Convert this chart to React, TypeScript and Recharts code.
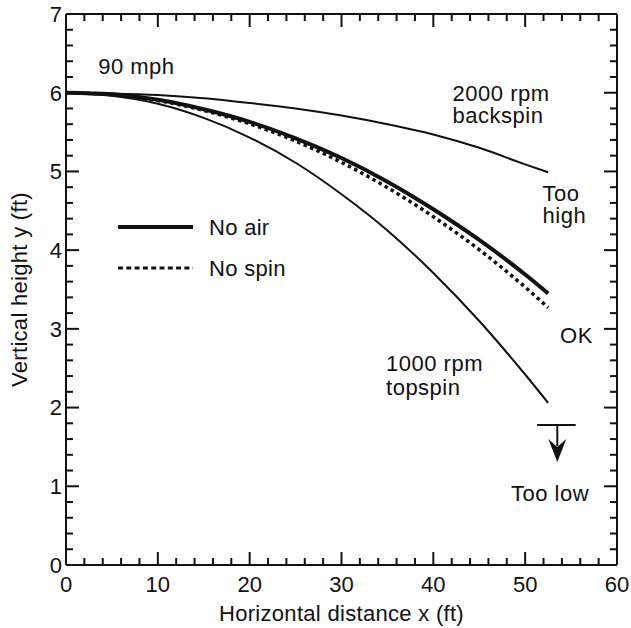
import React from 'react';
import { LineChart, Line, XAxis, YAxis, Legend, ReferenceLine, ReferenceDot } from 'recharts';

// horizontal distance x (ft) and vertical height y (ft) for each pitch
const distance = [0, 5, 10, 15, 20, 25, 30, 35, 40, 45, 50, 52.5];
const backspin2000 = [6, 5.99, 5.97, 5.93, 5.87, 5.8, 5.71, 5.6, 5.47, 5.3, 5.09, 4.99];
const noAir = [6, 5.98, 5.91, 5.79, 5.63, 5.42, 5.17, 4.87, 4.52, 4.13, 3.69, 3.45];
const noSpin = [6, 5.975, 5.9, 5.775, 5.605, 5.385, 5.115, 4.795, 4.425, 4.005, 3.53, 3.27];
const topspin1000 = [6, 5.96, 5.86, 5.68, 5.43, 5.11, 4.71, 4.25, 3.71, 3.1, 2.42, 2.06];

const xMajorTicks = [0, 10, 20, 30, 40, 50, 60];
const yMajorTicks = [0, 1, 2, 3, 4, 5, 6, 7];
const xMinorStep = 2;
const yMinorStep = 0.2;

// text notes placed in data coordinates (left edge, baseline)
const notes = [
  { text: '90 mph', x: 3.5, y: 6.24 },
  { text: '2000 rpm', x: 42.1, y: 5.9 },
  { text: 'backspin', x: 42.1, y: 5.61 },
  { text: 'Too', x: 51.9, y: 4.63 },
  { text: 'high', x: 51.9, y: 4.34 },
  { text: 'OK', x: 53.8, y: 2.82 },
  { text: '1000 rpm', x: 34.85, y: 2.465 },
  { text: 'topspin', x: 34.85, y: 2.16 },
  { text: 'Too low', x: 48.46, y: 0.81 },
];

// "too low" marker: bar and arrow
const lowBar = { x1: 51.3, x2: 55.5, y: 1.78 };
const lowArrow = { x: 53.5, tip: 1.31 };

const FONT = "'Liberation Sans', Arial, Helvetica, sans-serif";
const INK = '#111';

const rows = distance.map((x, i) => ({
  x,
  backspin: backspin2000[i],
  noAir: noAir[i],
  noSpin: noSpin[i],
  topspin: topspin1000[i],
}));

const steps = (max: number, step: number) => {
  const out: number[] = [];
  for (let i = 0; i * step <= max + 1e-9; i++) out.push(Math.round(i * step * 100) / 100);
  return out;
};
const xTicks = steps(60, xMinorStep);
const yTicks = steps(7, yMinorStep);

const isMajor = (v: number, majors: number[]) => majors.some(m => Math.abs(m - v) < 1e-6);

function InTick(props: any) {
  const { x, y, payload, side } = props;
  const v = payload.value;
  const horizontal = side === 'bottom' || side === 'top';
  const major = isMajor(v, horizontal ? xMajorTicks : yMajorTicks);
  const len = major ? 13 : 7;
  let x2 = x;
  let y2 = y;
  if (side === 'bottom') y2 = y - len;
  if (side === 'top') y2 = y + len;
  if (side === 'left') x2 = x + len;
  if (side === 'right') x2 = x - len;
  return (
    <g>
      <line x1={x} y1={y} x2={x2} y2={y2} stroke={INK} strokeWidth={2} />
      {major && side === 'bottom' && (
        <text x={x} y={y + 11} dy="0.71em" textAnchor="middle" fontFamily={FONT} fontSize={22} fill={INK}>
          {v}
        </text>
      )}
      {major && side === 'left' && (
        <text x={x - 4} y={y} dy="0.36em" textAnchor="end" fontFamily={FONT} fontSize={22} fill={INK}>
          {v}
        </text>
      )}
    </g>
  );
}

function XTitle(props: any) {
  const vb = props.viewBox || { x: 66, y: 565, width: 551, height: 63 };
  return (
    <text x={vb.x + vb.width / 2} y={vb.y + vb.height - 7} textAnchor="middle" fontFamily={FONT} fontSize={22} fill={INK} letterSpacing={0.3}>
      Horizontal distance x (ft)
    </text>
  );
}

function YTitle(props: any) {
  const vb = props.viewBox || { x: 0, y: 14, width: 66, height: 551 };
  const cx = vb.x + 27;
  const cy = vb.y + vb.height / 2;
  return (
    <text x={cx} y={cy} transform={`rotate(-90, ${cx}, ${cy})`} textAnchor="middle" fontFamily={FONT} fontSize={22} fill={INK} letterSpacing={0.3}>
      Vertical height y (ft)
    </text>
  );
}

const legendItems = [
  { name: 'No air', width: 4, dash: undefined as string | undefined },
  { name: 'No spin', width: 3, dash: '5 3.3' },
];

function LegendBox() {
  return (
    <svg width={200} height={72} style={{ display: 'block' }}>
      {legendItems.map((item, i) => {
        const ly = 14 + i * 41;
        return (
          <g key={item.name}>
            <line x1={0} y1={ly} x2={75} y2={ly} stroke={INK} strokeWidth={item.width} strokeDasharray={item.dash} />
            <text x={91} y={ly + 6} dy="0.1em" fontFamily={FONT} fontSize={22} fill={INK} letterSpacing={0.3}>
              {item.name}
            </text>
          </g>
        );
      })}
    </svg>
  );
}

function NoteText(props: any) {
  const { cx, cy, text } = props;
  return (
    <text x={cx} y={cy} fontFamily={FONT} fontSize={22} fill={INK} letterSpacing={0.5}>
      {text}
    </text>
  );
}

function ArrowHead(props: any) {
  const { cx, cy } = props;
  return <path d={`M${cx},${cy} L${cx - 9},${cy - 23} L${cx},${cy - 15} L${cx + 9},${cy - 23} Z`} fill={INK} />;
}

export default function App() {
  return (
    <div style={{ position: 'absolute', left: 0, top: 0, background: '#fff', width: 631, height: 628 }}>
      <LineChart width={631} height={628} data={rows} margin={{ top: 13, right: 13, left: 0, bottom: 0 }}>
        <XAxis
          dataKey="x"
          type="number"
          domain={[0, 60]}
          ticks={xTicks}
          interval={0}
          tickSize={0}
          tickMargin={0}
          tickLine={false}
          height={63}
          axisLine={{ stroke: INK, strokeWidth: 2 }}
          tick={<InTick side="bottom" />}
          label={<XTitle />}
        />
        <XAxis
          xAxisId="top"
          orientation="top"
          dataKey="x"
          type="number"
          domain={[0, 60]}
          ticks={xTicks}
          interval={0}
          tickSize={0}
          tickMargin={0}
          tickLine={false}
          height={1}
          axisLine={{ stroke: INK, strokeWidth: 2 }}
          tick={<InTick side="top" />}
        />
        <YAxis
          type="number"
          domain={[0, 7]}
          ticks={yTicks}
          interval={0}
          tickSize={0}
          tickMargin={0}
          tickLine={false}
          width={66}
          axisLine={{ stroke: INK, strokeWidth: 2 }}
          tick={<InTick side="left" />}
          label={<YTitle />}
        />
        <YAxis
          yAxisId="right"
          orientation="right"
          type="number"
          domain={[0, 7]}
          ticks={yTicks}
          interval={0}
          tickSize={0}
          tickMargin={0}
          tickLine={false}
          width={1}
          axisLine={{ stroke: INK, strokeWidth: 2 }}
          tick={<InTick side="right" />}
        />
        <Legend
          layout="horizontal"
          verticalAlign="middle"
          align="center"
          content={<LegendBox />}
          wrapperStyle={{ left: 118, top: 213, width: 200 }}
        />
        {/* hidden copy so the top and right frame axes get drawn */}
        <Line xAxisId="top" yAxisId="right" dataKey="noAir" stroke="none" dot={false} legendType="none" isAnimationActive={false} />
        <Line dataKey="backspin" name="2000 rpm backspin" type="monotone" stroke={INK} strokeWidth={2} dot={false} legendType="none" isAnimationActive={false} />
        <Line dataKey="topspin" name="1000 rpm topspin" type="monotone" stroke={INK} strokeWidth={2} dot={false} legendType="none" isAnimationActive={false} />
        <Line dataKey="noSpin" name="No spin" type="monotone" stroke={INK} strokeWidth={3.5} strokeDasharray="3.5 3.5" dot={false} isAnimationActive={false} />
        <Line dataKey="noAir" name="No air" type="monotone" stroke={INK} strokeWidth={4} dot={false} isAnimationActive={false} />
        <ReferenceLine segment={[{ x: lowBar.x1, y: lowBar.y }, { x: lowBar.x2, y: lowBar.y }]} stroke={INK} strokeWidth={2} />
        <ReferenceLine segment={[{ x: lowArrow.x, y: lowBar.y }, { x: lowArrow.x, y: lowArrow.tip + 0.2 }]} stroke={INK} strokeWidth={2} />
        <ReferenceDot x={lowArrow.x} y={lowArrow.tip} shape={<ArrowHead />} />
        {notes.map(n => (
          <ReferenceDot key={n.text} x={n.x} y={n.y} shape={<NoteText text={n.text} />} />
        ))}
      </LineChart>
    </div>
  );
}
